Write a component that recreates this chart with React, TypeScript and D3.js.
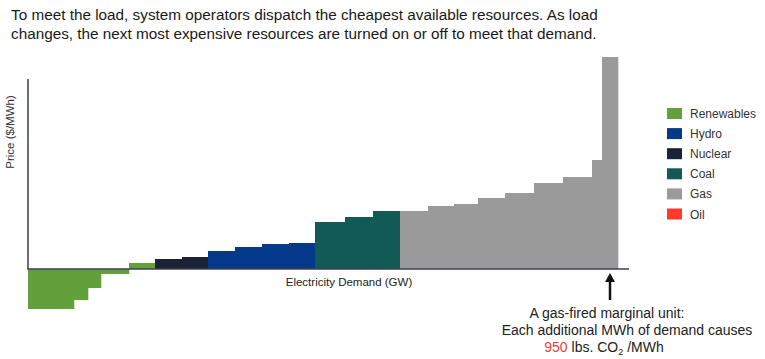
import React from "react";
import * as d3 from "d3";

// Merit-order supply stack: each block = capacity (GW, relative) and price ($/MWh, relative)
const renewablesCap = [46, 14, 13, 28, 26];
const renewablesPrice = [-40, -31, -19, -5, 6];
const nuclearCap = [27, 26];
const nuclearPrice = [10, 12];
const hydroCap = [27, 27, 27, 26];
const hydroPrice = [18, 22, 25, 26];
const coalCap = [30, 28, 27];
const coalPrice = [47, 52, 58];
const gasCap = [28, 26, 24, 27, 29, 29, 29, 10, 16];
const gasPrice = [58, 63, 65, 71, 76, 86, 92, 109, 212];

const legendLabels = ["Renewables", "Hydro", "Nuclear", "Coal", "Gas", "Oil"];
const legendColors = ["#62a03c", "#053a8a", "#1b2236", "#125a55", "#9a9a9a", "#ff3a2c"];

const titleLines = [
  "To meet the load, system operators dispatch the cheapest available resources. As load",
  "changes, the next most expensive resources are turned on or off to meet that demand.",
];

type Block = { cap: number; price: number; color: string };

export default function App() {
  const W = 765;
  const H = 359;
  const groups: [number[], number[], string][] = [
    [renewablesCap, renewablesPrice, legendColors[0]],
    [nuclearCap, nuclearPrice, legendColors[2]],
    [hydroCap, hydroPrice, legendColors[1]],
    [coalCap, coalPrice, legendColors[3]],
    [gasCap, gasPrice, legendColors[4]],
  ];
  const blocks: Block[] = [];
  groups.forEach(([caps, prices, color]) =>
    caps.forEach((c, i) => blocks.push({ cap: c, price: prices[i], color }))
  );
  const total = d3.sum(blocks, (b) => b.cap);
  const x = d3.scaleLinear().domain([0, total]).range([28, 618]);
  const y = d3.scaleLinear().domain([0, 190]).range([269, 79]);
  let acc = 0;
  const rects = blocks.map((b, i) => {
    const x0 = x(acc);
    acc += b.cap;
    const x1 = x(acc);
    const ya = y(Math.max(0, b.price));
    const yb = y(Math.min(0, b.price));
    return (
      <rect key={i} x={x0} y={ya} width={x1 - x0 + 0.3} height={yb - ya} fill={b.color} />
    );
  });
  const font = "'Liberation Sans', Arial, sans-serif";
  return (
    <svg
      width={W}
      height={H}
      style={{ position: "absolute", left: 0, top: 0, background: "#fff" }}
      fontFamily={font}
    >
      {titleLines.map((t, i) => (
        <text key={i} x={11} y={20 + i * 19} fontSize={15.3} fill="#1a1a1a">
          {t}
        </text>
      ))}
      {rects}
      {/* axes */}
      <line x1={28} x2={28} y1={79} y2={269} stroke="#3c4050" strokeWidth={1.5} />
      <line x1={27.25} x2={629} y1={269} y2={269} stroke="#3c4050" strokeWidth={1.5} />
      <text
        transform="translate(14,132) rotate(-90)"
        textAnchor="middle"
        fontSize={11.5}
        fill="#333"
      >
        Price ($/MWh)
      </text>
      <text x={349} y={286} textAnchor="middle" fontSize={11.5} fill="#222">
        Electricity Demand (GW)
      </text>
      {/* legend */}
      {legendLabels.map((l, i) => (
        <g key={l} transform={`translate(667,${108 + i * 20.1})`}>
          <rect width={15} height={11} fill={legendColors[i]} />
          <text x={23} y={10} fontSize={12} fill="#333">
            {l}
          </text>
        </g>
      ))}
      {/* arrow */}
      <line x1={610} x2={610} y1={279} y2={300} stroke="#111" strokeWidth={2.5} />
      <path d="M610,273 L605,282 L615,282 Z" fill="#111" />
      {/* annotation */}
      <text x={607} y={318} textAnchor="middle" fontSize={14} fill="#222">
        A gas-fired marginal unit:
      </text>
      <text x={627} y={335} textAnchor="middle" fontSize={14} fill="#222">
        Each additional MWh of demand causes
      </text>
      <text x={604} y={352} textAnchor="middle" fontSize={14} fill="#222">
        <tspan fill="#e8423a">950</tspan>
        <tspan> lbs. CO</tspan>
        <tspan fontSize={9} dy={3}>2</tspan>
        <tspan dy={-3}> /MWh</tspan>
      </text>
    </svg>
  );
}
